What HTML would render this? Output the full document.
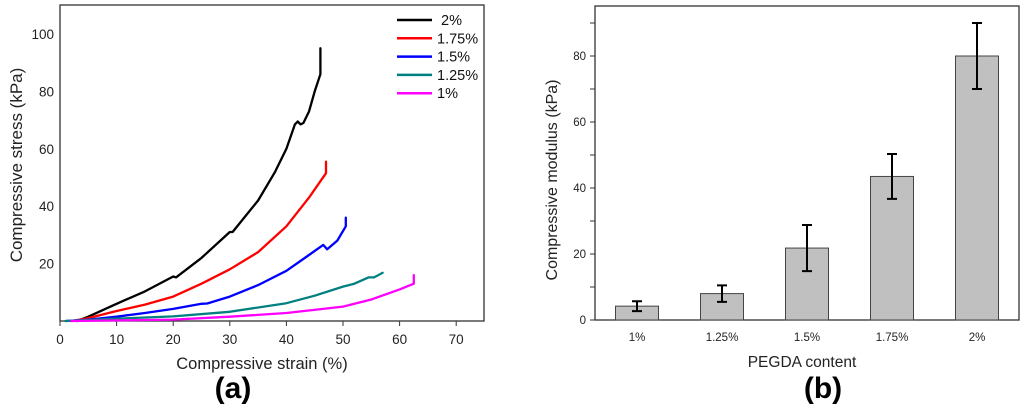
<!DOCTYPE html>
<html><head><meta charset="utf-8"><style>
body{margin:0;background:#fff;width:1024px;height:416px;overflow:hidden;font-family:"Liberation Sans",sans-serif}
svg{display:block}
</style></head><body>
<svg id="s" width="1024" height="416" xmlns="http://www.w3.org/2000/svg">
<g id="a"></g>
<g id="b"></g>
<text x="233" y="398" font-size="30" font-weight="bold" text-anchor="middle">(a)</text>
<text x="823" y="398" font-size="30" font-weight="bold" text-anchor="middle">(b)</text>
</svg>
<script>
const seriesNames=["2%","1.75%","1.5%","1.25%","1%"];
const seriesColors=["#000000","#ff0000","#0000ff","#008080","#ff00ff"];
const s2x=[3,5,10,15,20,20.5,25,30,30.5,35,38,40,41.5,42,42.5,43,44,45,46,46,46];
const s2y=[0,1.5,6,10.3,15.5,15.2,22,31,31,42,52,60,68.5,69.5,68.5,69,73,80,86,86,95];
const s175x=[2,5,10,15,20,25,30,35,40,44,47,47];
const s175y=[0,1,3.5,5.7,8.5,13,18,24,33,43,51.5,55.5];
const s15x=[1,5,10,15,20,25,26,30,35,40,44,46.5,47.2,49,50.5,50.5];
const s15y=[0,0.5,1.5,2.8,4.2,6,6.1,8.5,12.5,17.5,23,26.5,25,28,33,36];
const s125x=[1,10,20,30,40,45,50,52,54.5,55.5,57];
const s125y=[0,0.8,1.6,3.2,6.2,8.8,12,13,15.2,15.2,16.8];
const s1x=[2,20,30,40,50,55,60,62.5,62.5];
const s1y=[0,0.5,1.5,2.8,5,7.5,11,13,16];
const xTicksA=[0,10,20,30,40,50,60,70];
const yTicksA=[20,40,60,80,100];
const categories=["1%","1.25%","1.5%","1.75%","2%"];
const moduli=[4.2,8,21.8,43.5,80];
const errors=[1.5,2.5,7,6.8,10];
const yTicksB=[0,20,40,60,80];

const NS="http://www.w3.org/2000/svg";
function mk(p,t,at,txt){const e=document.createElementNS(NS,t);for(const k in at)e.setAttribute(k,at[k]);if(txt!==undefined)e.textContent=txt;p.appendChild(e);return e;}
const A=document.getElementById('a');
const ax=v=>60+v*5.66, ay=v=>321-v*2.87;
let f=mk(A,'rect',{x:60,y:5,width:424,height:316,fill:'none',stroke:'#333','stroke-width':1.3});

xTicksA.forEach(v=>{let t=mk(A,'line',{x1:ax(v),x2:ax(v),y1:321,y2:326,stroke:'#333'});

let l=mk(A,'text',{x:ax(v),y:344,'font-size':13.5,'text-anchor':'middle',fill:'#222'},v);
});
yTicksA.forEach(v=>{let l=mk(A,'text',{x:54,y:ay(v)+5,'font-size':13.5,'text-anchor':'end',fill:'#222'},v);
});
let xt=mk(A,'text',{x:262,y:369,'font-size':16.5,'text-anchor':'middle',fill:'#222'},'Compressive strain (%)');

let yt=mk(A,'text',{x:0,y:0,'font-size':17,'text-anchor':'middle',fill:'#222',transform:'translate(22,165) rotate(-90)'},'Compressive stress (kPa)');

const SX=[s2x,s175x,s15x,s125x,s1x],SY=[s2y,s175y,s15y,s125y,s1y];
SX.forEach((xs,i)=>{const d=xs.map((x,j)=>(j?'L':'M')+ax(x).toFixed(1)+','+ay(SY[i][j]).toFixed(1)).join(' ');
let p=mk(A,'path',{d:d,fill:'none',stroke:seriesColors[i],'stroke-width':2.3,'stroke-linejoin':'round','stroke-linecap':'round'});

const y=20+i*18.3;
let ll=mk(A,'line',{x1:397,x2:432,y1:y,y2:y,stroke:seriesColors[i],'stroke-width':2.5});

let lt=mk(A,'text',{x:i==0?441:437,y:y+5,'font-size':14.5,fill:'#111'},seriesNames[i]);
});
const B=document.getElementById('b');
const by=v=>320-v*3.3, bx=i=>637+i*85;
let fb=mk(B,'rect',{x:595,y:6,width:424,height:314,fill:'none',stroke:'#333','stroke-width':1.3});

for(let v=0;v<=90;v+=10){let t=mk(B,'line',{x1:590,x2:595,y1:by(v),y2:by(v),stroke:'#333'});
}
yTicksB.forEach(v=>{let l=mk(B,'text',{x:586,y:by(v)+4,'font-size':11.5,'text-anchor':'end',fill:'#222'},v);
});
categories.forEach((c,i)=>{
let r=mk(B,'rect',{x:bx(i)-21.5,y:by(moduli[i]),width:43,height:320-by(moduli[i]),fill:'#c0c0c0',stroke:'#444','stroke-width':1});

const t=by(moduli[i]+errors[i]),b=by(moduli[i]-errors[i]);
let e=mk(B,'path',{d:`M${bx(i)},${t}V${b}M${bx(i)-5},${t}H${bx(i)+5}M${bx(i)-5},${b}H${bx(i)+5}`,stroke:'#000','stroke-width':2,fill:'none'});

let l=mk(B,'text',{x:bx(i),y:341,'font-size':11.5,'text-anchor':'middle',fill:'#222'},c);
});
let xb=mk(B,'text',{x:802,y:367,'font-size':15.5,'text-anchor':'middle',fill:'#222'},'PEGDA content');

let yb=mk(B,'text',{x:0,y:0,'font-size':16,'text-anchor':'middle',fill:'#222',transform:'translate(557,180) rotate(-90)'},'Compressive modulus (kPa)');

</script>
</body></html>
